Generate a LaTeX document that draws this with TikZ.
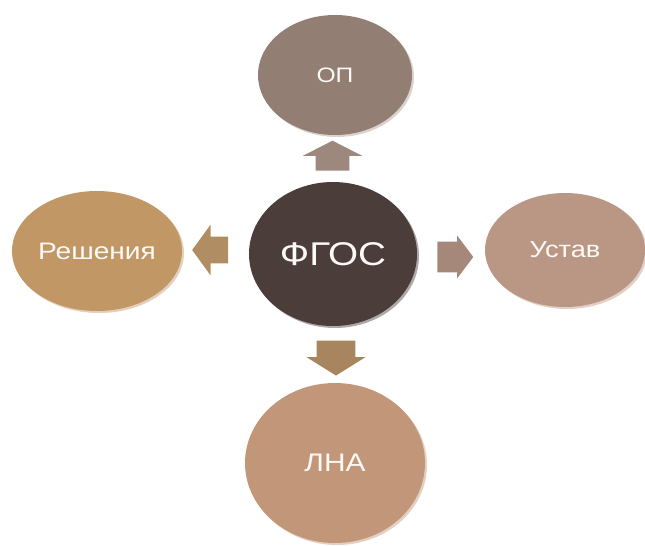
\documentclass[tikz,border=0pt]{standalone}
\usepackage{fontspec}
\setmainfont{Liberation Sans}
\usepackage{xcolor}
\usetikzlibrary{shapes.geometric,shapes.arrows}
\definecolor{opcol}{HTML}{927E72}
\definecolor{fgoscol}{HTML}{4B3D39}
\definecolor{reshcol}{HTML}{C19766}
\definecolor{ustavcol}{HTML}{BA9784}
\definecolor{lnacol}{HTML}{C29678}
\definecolor{upcol}{HTML}{9C887C}
\definecolor{leftcol}{HTML}{B08D62}
\definecolor{rightcol}{HTML}{A6887A}
\definecolor{downcol}{HTML}{A8845F}
\newcommand{\sqz}[1]{\scalebox{1}[0.85]{#1}}
\tikzset{
	disc/.style={ellipse,inner sep=0pt,text=white!95!brown},
	blockarr/.style={single arrow,inner xsep=0pt,minimum width=0pt,single arrow head indent=0pt}
}

\begin{document}
\begin{tikzpicture}

\useasboundingbox (0,0) rectangle (12.9,10.9);
%
\fill[opcol!35!white] (6.74,9.36) ellipse (1.54 and 1.20);
\fill[fgoscol!45!white] (6.70,5.78) ellipse (1.68 and 1.44);
\fill[reshcol!45!white] (1.98,5.84) ellipse (1.70 and 1.20);
\fill[ustavcol!45!white] (11.34,5.86) ellipse (1.60 and 1.14);
\fill[lnacol!45!white] (6.74,1.60) ellipse (1.80 and 1.60);

\node[disc,fill=opcol,minimum width=3.08cm,minimum height=2.40cm] (op) at (6.70,9.40) {\sqz{\fontsize{14}{16}\selectfont ОП}};
\node[disc,fill=fgoscol,minimum width=3.36cm,minimum height=2.88cm] (fgos) at (6.66,5.82) {\sqz{\fontsize{22}{24}\selectfont ФГОС}};
\node[disc,fill=reshcol,minimum width=3.40cm,minimum height=2.40cm] (resh) at (1.94,5.88) {\sqz{\fontsize{16}{18}\selectfont Решения}};
\node[disc,fill=ustavcol,minimum width=3.20cm,minimum height=2.28cm] (ustav) at (11.30,5.90) {\sqz{\fontsize{15.5}{18}\selectfont Устав}};
\node[disc,fill=lnacol,minimum width=3.60cm,minimum height=3.20cm] (lna) at (6.70,1.64) {\sqz{\fontsize{17}{19}\selectfont ЛНА}};

\node[blockarr,fill=upcol,inner ysep=0.33cm,minimum height=0.60cm,single arrow head extend=0.26cm,single arrow tip angle=126,rotate=90] (toop) at (6.65,7.70) {};
\node[blockarr,fill=leftcol,inner ysep=0.26cm,minimum height=0.72cm,single arrow head extend=0.24cm,single arrow tip angle=108,rotate=180] (toresh) at (4.30,5.90) {};
\node[blockarr,fill=rightcol,inner ysep=0.30cm,minimum height=0.72cm,single arrow head extend=0.12cm,single arrow tip angle=106] (toustav) at (8.99,5.76) {};
\node[blockarr,fill=downcol,inner ysep=0.38cm,minimum height=0.70cm,single arrow head extend=0.20cm,single arrow tip angle=116,rotate=270] (tolna) at (6.72,3.86) {};

\end{tikzpicture}
\end{document}
